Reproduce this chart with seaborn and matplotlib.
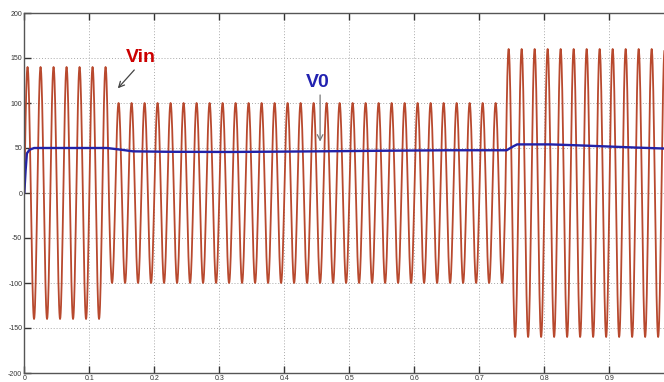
import numpy as np
import pandas as pd
import matplotlib
matplotlib.use("Agg")
import matplotlib.pyplot as plt
import seaborn as sns

# --- data ---
freq_hz = 50.0
seg_start = [0.0, 0.13, 0.74]          # s
seg_end = [0.13, 0.74, 0.985]
seg_amp = [140.0, 100.0, 160.0]        # Vin amplitude per segment

vo_t = [0.0, 0.002, 0.004, 0.008, 0.015, 0.06, 0.127, 0.15, 0.167, 0.22, 0.316,
        0.40, 0.485, 0.56, 0.655, 0.742, 0.750, 0.758, 0.809, 0.85, 0.886, 0.94, 0.985]
vo_v = [0.0, 25.0, 44.0, 48.0, 50.0, 50.0, 50.0, 48.0, 46.3, 45.8, 45.6,
        46.0, 46.5, 47.0, 47.5, 47.5, 51.0, 54.0, 54.0, 53.0, 52.0, 50.5, 49.4]

x_ticks = [0, 0.1, 0.2, 0.3, 0.4, 0.5, 0.6, 0.7, 0.8, 0.9]
x_tick_labels = ["0", "0.1", "0.2", "0.3", "0.4", "0.5", "0.6", "0.7", "0.8", "0.9"]
y_ticks = [-200, -150, -100, -50, 0, 50, 100, 150, 200]
y_tick_labels = ["-200", "-150", "-100", "-50", "0", "50", "100", "150", "200"]

# --- build waveform ---
t = np.arange(0.0, seg_end[-1], 0.0005)
amp = np.zeros_like(t)
for s, e, a in zip(seg_start, seg_end, seg_amp):
    amp[(t >= s) & (t < e + 1e-9)] = a
vin = amp * np.sin(2 * np.pi * freq_hz * t)
df_in = pd.DataFrame({"t": t, "v": vin})
df_o = pd.DataFrame({"t": vo_t, "v": vo_v})

sns.set_style("white")
plt.rcParams["font.family"] = ["Liberation Sans Narrow", "Liberation Sans", "DejaVu Sans"]

fig = plt.figure(figsize=(6.64, 3.82), dpi=100)
ax = fig.add_axes([24.3 / 664, 9 / 382, 1 - 24.3 / 664 + 0.001, 360 / 382])

sns.lineplot(data=df_in, x="t", y="v", ax=ax, color="#B8492E", linewidth=1.3,
             estimator=None, sort=False)
sns.lineplot(data=df_o, x="t", y="v", ax=ax, color="#2222A8", linewidth=1.7,
             estimator=None, sort=False)

ax.set_xlim(0, 0.985)
ax.set_ylim(-200, 200)
ax.set_xticks(x_ticks)
ax.set_xticklabels(x_tick_labels)
ax.set_yticks(y_ticks)
ax.set_yticklabels(y_tick_labels)
ax.set_xlabel("")
ax.set_ylabel("")
ax.grid(True, linestyle=(0, (1, 2)), color="#aaaaaa", linewidth=0.7)
ax.tick_params(direction="in", length=5, width=1, labelsize=5, pad=1.5, colors="#333333",
               top=True, bottom=True, left=True)
for sp in ["left", "top", "bottom"]:
    ax.spines[sp].set_color("#555555")
    ax.spines[sp].set_linewidth(1.0)
ax.spines["right"].set_visible(False)

ax.annotate("", xy=(0.141, 114), xytext=(0.172, 139),
            arrowprops=dict(arrowstyle="->", color="#444444", lw=0.9))
ax.text(0.18, 151, "Vin", color="#CC0000", fontsize=14, fontweight="bold",
        ha="center", va="center")
ax.annotate("", xy=(0.455, 54), xytext=(0.455, 112),
            arrowprops=dict(arrowstyle="->", color="#777777", lw=0.9))
ax.text(0.452, 123, "V0", color="#2222B0", fontsize=14, fontweight="bold",
        ha="center", va="center")

fig.savefig("out.png", dpi=100)
